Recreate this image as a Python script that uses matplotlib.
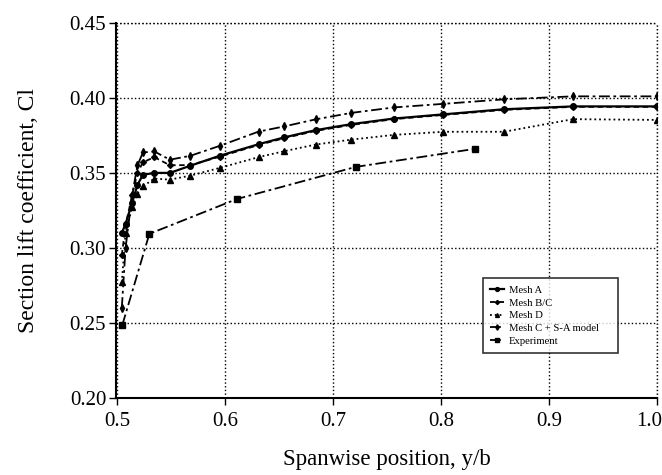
import matplotlib.pyplot as plt
from matplotlib.transforms import ScaledTranslation

plt.rcParams['font.family'] = ['Liberation Serif', 'DejaVu Serif']

# shared spanwise stations for the CFD meshes
span = [0.5045, 0.508, 0.514, 0.519, 0.524, 0.5345, 0.549, 0.568, 0.595,
        0.631, 0.655, 0.684, 0.717, 0.756, 0.802, 0.858, 0.922, 1.0]

cl_mesh_a = [0.310, 0.316, 0.330, 0.342, 0.3487, 0.350, 0.350, 0.3548, 0.3614,
             0.3691, 0.3737, 0.3785, 0.3825, 0.3862, 0.389, 0.3924, 0.3943, 0.3943]
cl_mesh_bc = [0.295, 0.315, 0.335, 0.350, 0.357, 0.3605, 0.3551, 0.3552, 0.3608,
              0.3686, 0.3732, 0.3780, 0.3820, 0.3858, 0.3886, 0.3920, 0.3940, 0.3940]
cl_mesh_d = [0.277, 0.310, 0.327, 0.336, 0.341, 0.3462, 0.3455, 0.3482, 0.3533,
             0.3605, 0.3645, 0.3689, 0.3722, 0.3753, 0.3774, 0.3774, 0.3858, 0.3853]
cl_mesh_c_sa = [0.260, 0.300, 0.335, 0.355, 0.3636, 0.3643, 0.3588, 0.3614, 0.368,
                0.3775, 0.381, 0.3857, 0.390, 0.3936, 0.396, 0.399, 0.401, 0.401]

span_exp = [0.505, 0.530, 0.611, 0.721, 0.831]
cl_exp = [0.2487, 0.3094, 0.3326, 0.354, 0.366]

xticks = [0.5, 0.6, 0.7, 0.8, 0.9, 1.0]
yticks = [0.20, 0.25, 0.30, 0.35, 0.40, 0.45]

fig = plt.figure(figsize=(6.62, 4.75), dpi=100)
ax = fig.add_axes([0.175, 0.162, 0.818, 0.79])

ax.plot(span, cl_mesh_a, '-', color='k', lw=1.6, marker='o', ms=4, label='Mesh A')
ax.plot(span, cl_mesh_bc, '--', color='k', lw=1.3, marker='D', ms=3, dashes=(3, 2), label='Mesh B/C')
ax.plot(span, cl_mesh_d, ':', color='k', lw=1.3, marker='^', ms=4, label='Mesh D')
ax.plot(span, cl_mesh_c_sa, color='k', lw=1.3, marker='d', ms=4, dashes=(6, 2, 1.5, 2),
        label='Mesh C + S-A model')
ax.plot(span_exp, cl_exp, color='k', lw=1.3, marker='s', ms=4.5, dashes=(6, 2, 1.5, 2),
        label='Experiment')

ax.set_xlim(0.499, 1.0)
ax.set_ylim(0.20, 0.45)
ax.set_xticks(xticks)
ax.set_yticks(yticks)
ax.set_xticklabels(['%.1f' % v for v in xticks])
ax.set_yticklabels(['%.2f' % v for v in yticks])
ax.tick_params(labelsize=15, direction='out', length=5, width=1, colors='k')
ax.tick_params(axis='y', pad=2)
ax.tick_params(axis='x', pad=5)
# last x label sits a bit left so it isn't clipped
lab = ax.get_xticklabels()[-1]
lab.set_transform(lab.get_transform() + ScaledTranslation(-8 / 100, 0, fig.dpi_scale_trans))

ax.grid(True, ls=':', color='k', lw=1)
ax.set_axisbelow(True)
ax.spines['top'].set_visible(False)
ax.spines['right'].set_visible(False)
ax.spines['left'].set_linewidth(1.5)
ax.spines['bottom'].set_linewidth(1.5)
# dotted frame lines on top/right like grid
ax.axhline(0.45, ls=':', color='k', lw=1, clip_on=False)
ax.axvline(1.0, ls=':', color='k', lw=1, clip_on=False)

ax.set_xlabel('Spanwise position, y/b', fontsize=16.5, labelpad=13)
ax.set_ylabel('Section lift coefficient, Cl', fontsize=17, labelpad=22)

leg = ax.legend(loc='lower left', bbox_to_anchor=(0.668, 0.105, 0.269, 0.189), mode='expand',
                fontsize=7.7, frameon=True, fancybox=False, edgecolor='k', handlelength=1.3,
                handletextpad=0.4, labelspacing=0.3, borderpad=0.7, markerscale=0.7)
leg.get_frame().set_linewidth(1.2)

fig.savefig('out.png', dpi=100)
